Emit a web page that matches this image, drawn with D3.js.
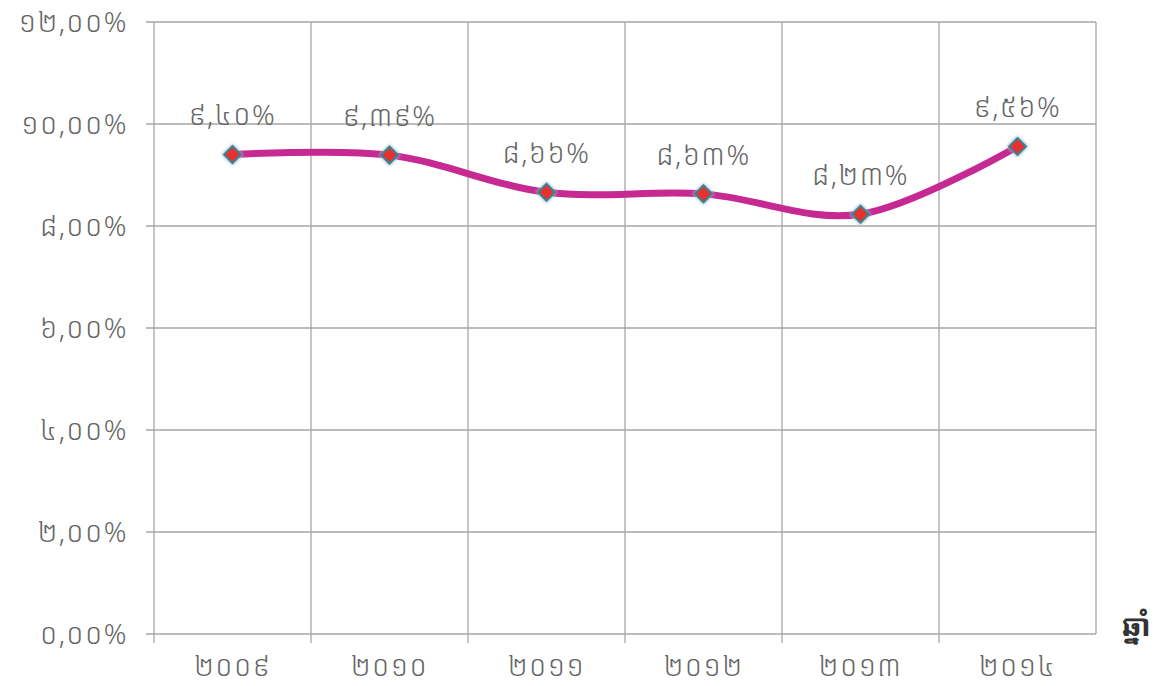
<!DOCTYPE html>
<html>
<head>
<meta charset="utf-8">
<script src="https://cdn.jsdelivr.net/npm/d3@7"></script>
<style>
  body { margin: 0; background: #fff; }
  svg text { font-family: "Noto Sans Khmer", "Khmer OS", "Noto Sans", "DejaVu Sans", sans-serif; }
</style>
</head>
<body>
<div id="graph"></div>
<script>
const years = ["២០០៩", "២០១០", "២០១១", "២០១២", "២០១៣", "២០១៤"];
const rates = [9.40, 9.39, 8.66, 8.63, 8.23, 9.56];
const rate_labels = ["៩,៤០%", "៩,៣៩%", "៨,៦៦%", "៨,៦៣%", "៨,២៣%", "៩,៥៦%"];
const y_ticks = [0, 2, 4, 6, 8, 10, 12];
const y_tick_labels = ["០,០០%", "២,០០%", "៤,០០%", "៦,០០%", "៨,០០%", "១០,០០%", "១២,០០%"];
const axis_title = "ឆ្នាំ";

const margin = {top: 22, right: 60, bottom: 52, left: 154};
const width = 1156 - margin.left - margin.right;
const height = 686 - margin.top - margin.bottom;

var x = d3.scaleBand().domain(years).range([0, width]);
var y = d3.scaleLinear().domain([0, 12]).range([height, 0]);

const grid_color = "#a6a6a6";
const text_color = "#666666";

var svg = d3.select("#graph")
    .append("svg")
        .attr("width", 1156)
        .attr("height", 686)
    .append("g")
        .attr("transform", "translate(" + margin.left + "," + margin.top + ")");

// horizontal grid lines (with small tick to the left)
svg.selectAll(".hgrid")
    .data(y_ticks)
    .enter().append("line")
    .attr("x1", -8)
    .attr("x2", width)
    .attr("y1", (d) => y(d))
    .attr("y2", (d) => y(d))
    .style("stroke", grid_color)
    .style("stroke-width", 1.3);

// vertical grid lines at band edges, extended below axis as ticks
const edges = years.map((d) => x(d)).concat([width]);
svg.selectAll(".vgrid")
    .data(edges)
    .enter().append("line")
    .attr("x1", (d) => d)
    .attr("x2", (d) => d)
    .attr("y1", 0)
    .attr("y2", (d, i) => (i == edges.length - 1) ? height : height + 9)
    .style("stroke", grid_color)
    .style("stroke-width", 1.3);

const label_style = (sel) => sel
    .style("font-size", "28px")
    .style("font-weight", "300")
    .style("letter-spacing", "1.5px")
    .style("fill", text_color);

// y tick labels
svg.selectAll(".ylab")
    .data(y_ticks)
    .enter().append("text")
    .attr("x", -26)
    .attr("y", (d) => y(d))
    .attr("dy", "0.36em")
    .style("text-anchor", "end")
    .call(label_style)
    .text((d, i) => y_tick_labels[i]);

// x tick labels
svg.selectAll(".xlab")
    .data(years)
    .enter().append("text")
    .attr("x", (d) => x(d) + x.bandwidth() / 2)
    .attr("y", height + 32)
    .attr("dy", "0.35em")
    .style("text-anchor", "middle")
    .call(label_style)
    .text((d) => d);

// axis title
svg.append("text")
    .attr("x", width + 40)
    .attr("y", height + 2)
    .style("text-anchor", "middle")
    .style("font-size", "30px")
    .style("font-weight", "bold")
    .style("fill", "#333")
    .text(axis_title);

const pts = years.map((d, i) => ({year: d, val: rates[i], label: rate_labels[i]}));

var line = d3.line()
    .x((d) => x(d.year) + x.bandwidth() / 2)
    .y((d) => y(d.val))
    .curve(d3.curveCardinal.tension(0));

svg.append("path")
    .attr("d", line(pts))
    .style("fill", "none")
    .style("stroke", "#c62a92")
    .style("stroke-width", 7)
    .style("stroke-linecap", "round");

// markers
var defs = d3.select("svg").append("defs");
defs.append("filter").attr("id", "glow")
    .append("feGaussianBlur").attr("stdDeviation", 1.5);

svg.selectAll(".mk-shadow")
    .data(pts)
    .enter().append("path")
    .attr("d", d3.symbol().type(d3.symbolSquare).size(230)())
    .attr("transform", (d) => "translate(" + (x(d.year) + x.bandwidth() / 2) + "," + y(d.val) + ") rotate(45)")
    .style("fill", "#9ab6c2")
    .style("filter", "url(#glow)");

svg.selectAll(".mk")
    .data(pts)
    .enter().append("path")
    .attr("d", d3.symbol().type(d3.symbolSquare).size(140)())
    .attr("transform", (d) => "translate(" + (x(d.year) + x.bandwidth() / 2) + "," + y(d.val) + ") rotate(45)")
    .style("fill", "#e8302c")
    .style("stroke", "#3f7f8e")
    .style("stroke-width", 2);

// data labels
svg.selectAll(".dlab")
    .data(pts)
    .enter().append("text")
    .attr("x", (d) => x(d.year) + x.bandwidth() / 2)
    .attr("y", (d) => y(d.val) - 39)
    .attr("dy", "0.35em")
    .style("text-anchor", "middle")
    .call(label_style)
    .text((d) => d.label);
</script>
</body>
</html>
